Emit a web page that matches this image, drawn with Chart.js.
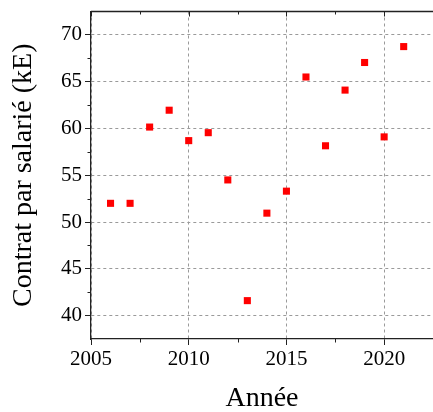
<!DOCTYPE html>
<html>
<head>
<meta charset="utf-8">
<script src="https://cdn.jsdelivr.net/npm/chart.js@4/dist/chart.umd.min.js"></script>
<style>
  html, body { margin: 0; padding: 0; background: #fff; }
  canvas { display: block; }
</style>
</head>
<body>
<canvas id="chart" width="433" height="412"></canvas>
<script>
    // ===== DATA ===== //
    const years = [2006, 2007, 2008, 2009, 2010, 2011, 2012, 2013, 2014, 2015, 2016, 2017, 2018, 2019, 2020, 2021];
    const contractValues = [52.0, 52.0, 60.15, 61.95, 58.7, 59.55, 54.5, 41.6, 50.95, 53.3, 65.5, 58.15, 64.1, 67.05, 59.1, 68.75];
    const xTicks = [2005, 2010, 2015, 2020];
    const xMinorTicks = [2007.5, 2012.5, 2017.5];
    const yTicks = [40, 45, 50, 55, 60, 65, 70];
    const yMinorTicks = [42.5, 47.5, 52.5, 57.5, 62.5, 67.5];

    const FONT = "'Liberation Serif', 'Times New Roman', serif";
    const AXIS_COLOR = "#222";

    // ===== FRAME PLUGIN (top spine + minor ticks) ===== //
    const framePlugin = {
      id: "frame",
      afterDraw(chart) {
        const { ctx, chartArea } = chart;
        const xs = chart.scales.x, ys = chart.scales.y;
        ctx.save();
        ctx.strokeStyle = AXIS_COLOR;
        ctx.lineWidth = 1.3;
        ctx.beginPath();
        ctx.moveTo(chartArea.left, chartArea.top);
        ctx.lineTo(chartArea.right, chartArea.top);
        ctx.stroke();

        ctx.lineWidth = 1;
        ctx.beginPath();
        // minor ticks on left axis (outward)
        yMinorTicks.forEach(v => {
          const y = Math.round(ys.getPixelForValue(v)) + 0.5;
          ctx.moveTo(chartArea.left - 3.5, y);
          ctx.lineTo(chartArea.left, y);
        });
        // minor ticks on bottom axis (outward)
        xMinorTicks.forEach(v => {
          const x = Math.round(xs.getPixelForValue(v)) + 0.5;
          ctx.moveTo(x, chartArea.bottom);
          ctx.lineTo(x, chartArea.bottom + 3.5);
        });
        // top spine ticks (inward)
        xMinorTicks.forEach(v => {
          const x = Math.round(xs.getPixelForValue(v)) + 0.5;
          ctx.moveTo(x, chartArea.top);
          ctx.lineTo(x, chartArea.top + 3);
        });
        xTicks.forEach(v => {
          const x = Math.round(xs.getPixelForValue(v)) + 0.5;
          ctx.moveTo(x, chartArea.top);
          ctx.lineTo(x, chartArea.top + 5);
        });
        ctx.stroke();
        ctx.restore();
      }
    };

    // ===== CHART ===== //
    const points = years.map((year, i) => ({ x: year, y: contractValues[i] }));

    function gridOptions() {
      return {
        color: "#9a9a9a",
        lineWidth: 1,
        drawTicks: true,
        tickLength: 6,
        tickColor: AXIS_COLOR,
        tickWidth: 1,
        tickBorderDash: []
      };
    }

    function borderOptions() {
      return { display: true, color: AXIS_COLOR, width: 1.3, dash: [3, 3] };
    }

    new Chart(document.getElementById("chart"), {
      type: "scatter",
      data: {
        datasets: [{
          data: points,
          pointStyle: "rect",
          pointRadius: 5,
          pointHoverRadius: 5,
          backgroundColor: "#ff0000",
          borderColor: "#ff0000",
          borderWidth: 0,
          clip: false
        }]
      },
      options: {
        responsive: false,
        animation: false,
        layout: { autoPadding: false, padding: { top: 11.5, right: 0, left: 0, bottom: 0 } },
        plugins: { legend: { display: false }, tooltip: { enabled: false } },
        scales: {
          x: {
            type: "linear",
            min: 2005,
            max: 2022.5,
            afterBuildTicks: scale => { scale.ticks = xTicks.map(v => ({ value: v })); },
            afterFit: scale => {
              scale.height = 73;
              scale.paddingLeft = 0;
              scale.paddingRight = 0;
            },
            grid: gridOptions(),
            border: borderOptions(),
            ticks: {
              font: { family: FONT, size: 21 },
              color: "#000",
              padding: 2,
              maxRotation: 0,
              callback: v => String(v)
            },
            title: {
              display: true,
              text: "Année",
              font: { family: FONT, size: 28, lineHeight: 1 },
              color: "#000",
              padding: { top: 0, bottom: -1 }
            }
          },
          y: {
            min: 37.5,
            max: 72.5,
            afterBuildTicks: scale => { scale.ticks = yTicks.map(v => ({ value: v })); },
            afterFit: scale => {
              scale.width = 91;
              scale.paddingTop = 0;
              scale.paddingBottom = 0;
            },
            grid: gridOptions(),
            border: borderOptions(),
            ticks: {
              font: { family: FONT, size: 21 },
              color: "#000",
              padding: 3,
              callback: v => String(v)
            },
            title: {
              display: true,
              text: "Contrat par salarié (kE)",
              font: { family: FONT, size: 28, lineHeight: 1 },
              color: "#000",
              padding: { top: 10, bottom: 0 }
            }
          }
        }
      },
      plugins: [framePlugin]
    });
</script>
</body>
</html>
